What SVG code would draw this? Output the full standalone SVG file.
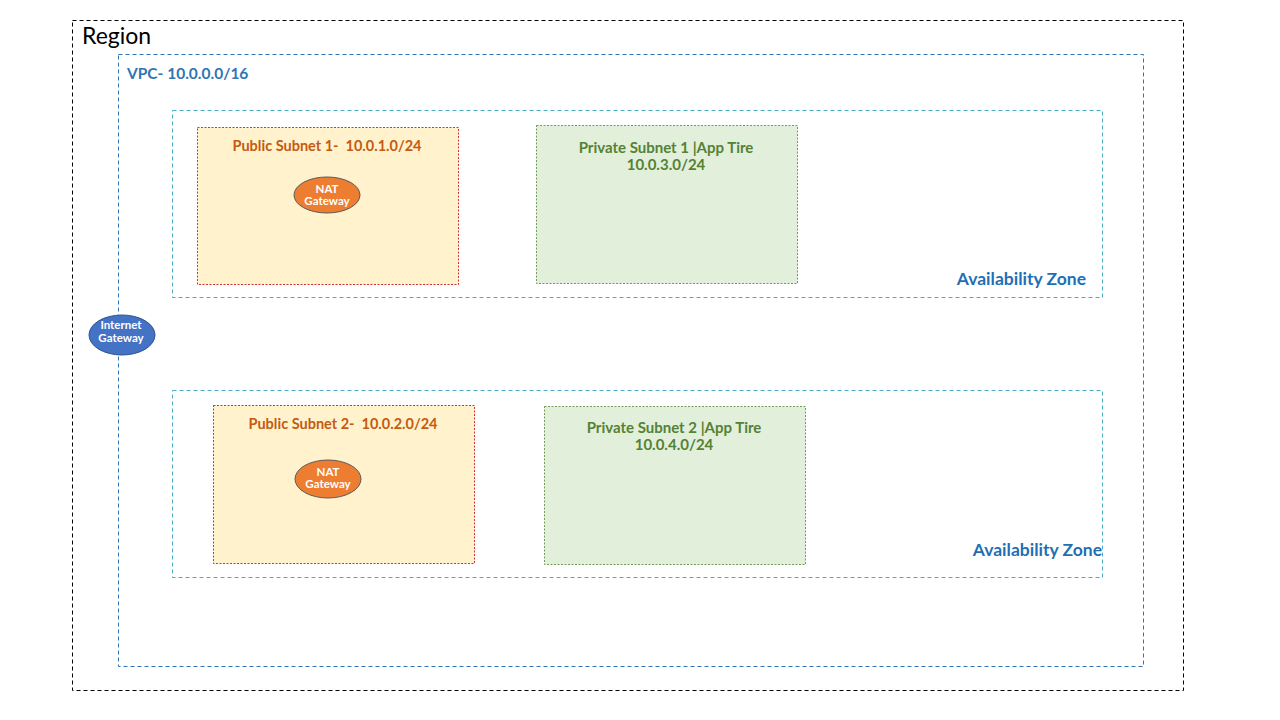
<svg xmlns="http://www.w3.org/2000/svg" width="1280" height="720" viewBox="0 0 1280 720">
<style>
.region{fill:none;stroke:#000;stroke-width:1;stroke-dasharray:4 3}
.vpc{fill:none;stroke:#2E75B6;stroke-width:1;stroke-dasharray:4 3}
.az{fill:none;stroke:#4BACC6;stroke-width:1;stroke-dasharray:4 3}
.pub{fill:#FFF2CC;stroke:#C00000;stroke-width:0.8;stroke-dasharray:2 1.5}
.priv{fill:#E2EFDA;stroke:#548235;stroke-width:0.8;stroke-dasharray:2 1.5}
.nat{fill:#ED7D31;stroke:#5A5A5A;stroke-width:1}
.igw{fill:#4472C4;stroke:#2F528F;stroke-width:1}
text{font-family:Lato,"Liberation Sans",sans-serif;white-space:pre}
.t-region{font-size:23px;fill:#000}
.t-vpc{font-size:15.5px;font-weight:bold;fill:#2E75B6}
.t-az{font-size:17.5px;font-weight:bold;fill:#1F6FB4;text-anchor:end}
.t-pub{font-size:14.5px;font-weight:bold;fill:#C55A11;text-anchor:middle}
.t-priv{font-size:15px;font-weight:bold;fill:#548235;text-anchor:middle}
.t-node{font-size:11.5px;font-weight:bold;fill:#fff;text-anchor:middle}
</style>
<rect width="1280" height="720" fill="#fff"/>
<g id="region">
<rect class="region" x="72.5" y="20.5" width="1111" height="670"/>
<text class="t-region" x="82" y="44">Region</text>
</g>
<g id="vpc">
<rect class="vpc" x="118.5" y="54.5" width="1025" height="612"/>
<text class="t-vpc" x="127" y="79">VPC- 10.0.0.0/16</text>
</g>
<g id="az1">
<rect class="az" x="172.5" y="110.5" width="930" height="187"/>
<text class="t-az" x="1086" y="285">Availability Zone</text>
</g>
<g id="az2">
<rect class="az" x="172.5" y="390.5" width="930" height="187"/>
<text class="t-az" x="1102" y="556">Availability Zone</text>
</g>
<g id="public-subnet-1">
<rect class="pub" x="197.5" y="127.5" width="261" height="157"/>
<text class="t-pub" x="327" y="151" xml:space="preserve">Public Subnet 1-  10.0.1.0/24</text>
</g>
<g id="nat-gateway-1">
<ellipse class="nat" cx="327" cy="195" rx="33" ry="18"/>
<text class="t-node" x="327" y="193">NAT</text>
<text class="t-node" x="327" y="205">Gateway</text>
</g>
<g id="private-subnet-1">
<rect class="priv" x="536.5" y="125.5" width="261" height="158"/>
<text class="t-priv" x="666" y="153">Private Subnet 1 |App Tire</text>
<text class="t-priv" x="666" y="170">10.0.3.0/24</text>
</g>
<g id="public-subnet-2">
<rect class="pub" x="213.5" y="405.5" width="261" height="158"/>
<text class="t-pub" x="343" y="429" xml:space="preserve">Public Subnet 2-  10.0.2.0/24</text>
</g>
<g id="nat-gateway-2">
<ellipse class="nat" cx="328" cy="479" rx="33" ry="19"/>
<text class="t-node" x="328" y="476">NAT</text>
<text class="t-node" x="328" y="488">Gateway</text>
</g>
<g id="private-subnet-2">
<rect class="priv" x="544.5" y="406.5" width="261" height="158"/>
<text class="t-priv" x="674" y="433">Private Subnet 2 |App Tire</text>
<text class="t-priv" x="674" y="450">10.0.4.0/24</text>
</g>
<g id="internet-gateway">
<ellipse class="igw" cx="122" cy="335" rx="33" ry="20"/>
<text class="t-node" x="121" y="329">Internet</text>
<text class="t-node" x="121" y="342">Gateway</text>
</g>
<g id="connectors"></g>
</svg>
